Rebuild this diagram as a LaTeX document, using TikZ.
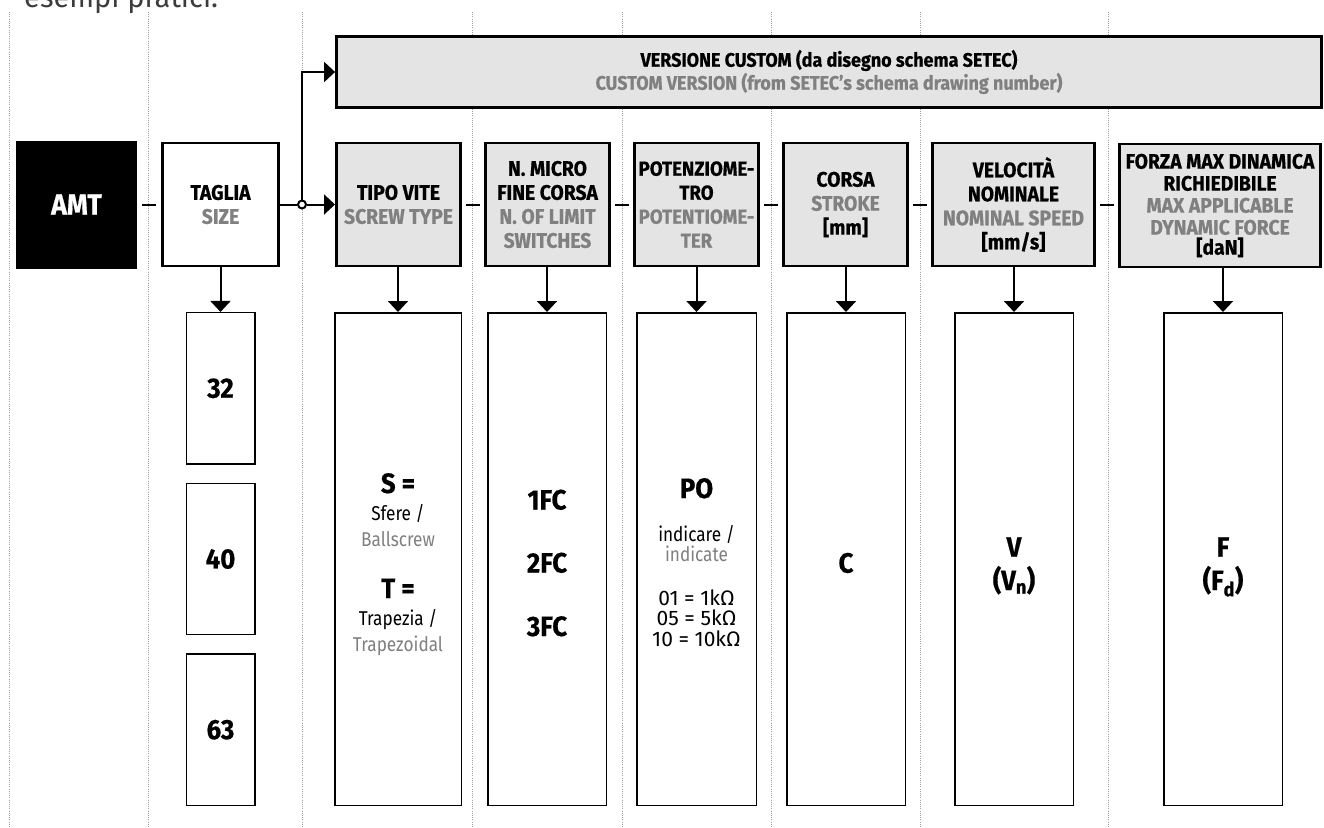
\documentclass[tikz,border=0pt]{standalone}
\usepackage{fontspec}
\usetikzlibrary{arrows.meta}
\setmainfont{Fira Sans}
\newfontfamily\condfont{Fira Sans}[FakeStretch=0.92, BoldFeatures={FakeBold=0.6}]
\newfontfamily\condreg{Fira Sans}[FakeStretch=0.86]
\newfontfamily\plainfont{Fira Sans}
\definecolor{hfill}{RGB}{227,228,227}
\definecolor{tgray}{RGB}{128,128,128}
\definecolor{gridgray}{RGB}{160,160,160}
\definecolor{introcol}{RGB}{60,60,60}
\tikzset{
  hdr/.style={draw=black, line width=2.8pt, fill=hfill, inner sep=0pt, align=center, minimum height=123pt, font=\condfont\bfseries\fontsize{21}{24}\selectfont},
  valbox/.style={draw=black, line width=1.5pt, fill=white, inner sep=0pt},
  conn/.style={draw=black, line width=2pt},
  arr/.style={conn, -{Triangle[length=11pt,width=20pt]}},
  gridline/.style={draw=gridgray, line width=0.8pt, dash pattern=on 1pt off 1.2pt},
  vbfont/.style={font=\condfont\bfseries\fontsize{28}{28}\selectfont},
  vbold/.style={vbfont, anchor=base},
  vreg/.style={anchor=base, font=\condreg\fontsize{20}{20}\selectfont},
  vplain/.style={anchor=base, font=\plainfont\fontsize{21}{21}\selectfont},
}
\begin{document}
\begin{tikzpicture}[x=1pt,y=-1pt]
\clip (0,0) rectangle (1324,827);
\fill[white] (0,0) rectangle (1324,827);
% dotted guide lines
\foreach \gx/\gn in {9/g1,148/g2,302/g3,472/g4,622/g5,771/g6,920/g7,1108/g8}{
  \coordinate (\gn-top) at (\gx,12);
  \coordinate (\gn-bot) at (\gx,827);
  \draw[gridline] (\gn-top) -- (\gn-bot);
}
\node[anchor=base west, font=\plainfont\fontsize{29}{29}\selectfont, text=introcol, inner sep=0pt] (intro) at (24,8) {esempi pratici.};

% header row
\node[hdr, fill=black, draw=none, minimum width=121pt, minimum height=128pt, text=white, font=\condfont\bfseries\fontsize{29}{29}\selectfont] (amt) at (76.5,204.5) {AMT};
\node[hdr, fill=white, minimum width=116.2pt] (taglia) at (220.5,204.5) {TAGLIA\\\textcolor{tgray}{SIZE}};
\node[hdr, minimum width=124.2pt] (tipo) at (398.5,204.5) {TIPO VITE\\\textcolor{tgray}{SCREW TYPE}};
\node[hdr, minimum width=124.2pt] (micro) at (547.5,204.5) {N. MICRO\\FINE CORSA\\\textcolor{tgray}{N. OF LIMIT}\\\textcolor{tgray}{SWITCHES}};
\node[hdr, minimum width=124.2pt, font=\condfont\bfseries\fontsize{20.3}{24}\selectfont] (pot) at (696.5,204.5) {POTENZIOME-\\TRO\\\textcolor{tgray}{POTENTIOME-}\\\textcolor{tgray}{TER}};
\node[hdr, minimum width=124.2pt] (corsa) at (845.5,204.5) {CORSA\\\textcolor{tgray}{STROKE}\\{[mm]}};
\node[hdr, minimum width=162.2pt] (vel) at (1013.5,204.5) {VELOCITÀ\\NOMINALE\\\textcolor{tgray}{NOMINAL SPEED}\\{[mm/s]}};
\node[hdr, minimum width=201.2pt, font=\condfont\bfseries\fontsize{21}{22}\selectfont] (forza) at (1220,205.5) {FORZA MAX DINAMICA\\RICHIEDIBILE\\\textcolor{tgray}{MAX APPLICABLE}\\\textcolor{tgray}{DYNAMIC FORCE}\\[-2pt]{[daN]}};
\node[hdr, minimum width=985pt, minimum height=71pt, font=\condfont\bfseries\fontsize{19.5}{23}\selectfont] (custom) at (829,72) {VERSIONE CUSTOM (da disegno schema SETEC)\\\textcolor{tgray}{CUSTOM VERSION (from SETEC’s schema drawing number)}};

% junction
\node[circle, draw=black, line width=2pt, fill=white, minimum size=8pt, inner sep=0pt] (j) at (302,204.5) {};
\draw[conn] (taglia) -- (j);
\draw[arr] (j) -- (tipo);
\draw[arr] (j) |- (custom);

% dashes between headers
\draw[conn] ([xshift=4pt]amt.east) -- ([xshift=-5pt]taglia.west);
\draw[conn] ([xshift=4pt]tipo.east) -- ([xshift=-4pt]micro.west);
\draw[conn] ([xshift=4pt]micro.east) -- ([xshift=-4pt]pot.west);
\draw[conn] ([xshift=4pt]pot.east) -- ([xshift=-4pt]corsa.west);
\draw[conn] ([xshift=4pt]corsa.east) -- ([xshift=-4pt]vel.west);
\draw[conn] ([xshift=4pt]vel.east) -- ([xshift=-4pt]forza.west |- vel.east);

% value boxes
\node[valbox, vbfont, minimum width=68.5pt, minimum height=151.2pt] (s32) at (220.5,388.3) {32};
\node[valbox, vbfont, minimum width=68.5pt, minimum height=151.2pt] (s40) at (220.5,559) {40};
\node[valbox, vbfont, minimum width=68.5pt, minimum height=151.2pt] (s63) at (220.5,729.7) {63};
\node[valbox, minimum width=126.5pt, minimum height=492.5pt] (tipov) at (398,559) {};
\node[valbox, minimum width=118.5pt, minimum height=492.5pt] (microv) at (547,559) {};
\node[valbox, minimum width=119.5pt, minimum height=492.5pt] (potv) at (696.5,559) {};
\node[valbox, minimum width=118.5pt, minimum height=492.5pt] (corsav) at (846,559) {};
\node[valbox, minimum width=118.5pt, minimum height=492.5pt] (velv) at (1014,559) {};
\node[valbox, minimum width=118.5pt, minimum height=492.5pt] (forzav) at (1223,559) {};

% arrows down
\draw[arr] (taglia.south -| s32.north) -- (s32.north);
\draw[arr] (tipo.south -| tipov.north) -- (tipov.north);
\draw[arr] (micro.south -| microv.north) -- (microv.north);
\draw[arr] (pot.south -| potv.north) -- (potv.north);
\draw[arr] (corsa.south -| corsav.north) -- (corsav.north);
\draw[arr] (vel.south -| velv.north) -- (velv.north);
\draw[arr] (forza.south -| forzav.north) -- (forzav.north);

% value texts
\node[vbold] (ts) at (398,493) {S =};
\node[vreg] (tsf) at (398,520.7) {Sfere /};
\node[vreg, text=tgray] (tsb) at (398,546) {Ballscrew};
\node[vbold] (tt) at (398,598) {T =};
\node[vreg] (ttr) at (398,625) {Trapezia /};
\node[vreg, text=tgray] (ttz) at (398,651.7) {Trapezoidal};

\node[vbold] (fc1) at (547,509.5) {1FC};
\node[vbold] (fc2) at (547,572.5) {2FC};
\node[vbold] (fc3) at (547,636) {3FC};

\node[vbold] (po) at (696.5,498) {PO};
\node[vreg] (poi) at (696.5,541.7) {indicare /};
\node[vreg, text=tgray] (poe) at (696.5,561.7) {indicate};
\node[vplain] (po1) at (696.5,605) {01 = 1kΩ};
\node[vplain] (po2) at (696.5,625) {05 = 5kΩ};
\node[vplain] (po3) at (696.5,646.7) {10 = 10kΩ};

\node[vbold] (cc) at (846,572.7) {C};
\node[vbold] (vv) at (1014,556.7) {V};
\node[vbold] (vn) at (1014,590) {(V\textsubscript{n})};
\node[vbold] (ff) at (1223,556.7) {F};
\node[vbold] (fd) at (1223,590) {(F\textsubscript{d})};
\end{tikzpicture}
\end{document}
